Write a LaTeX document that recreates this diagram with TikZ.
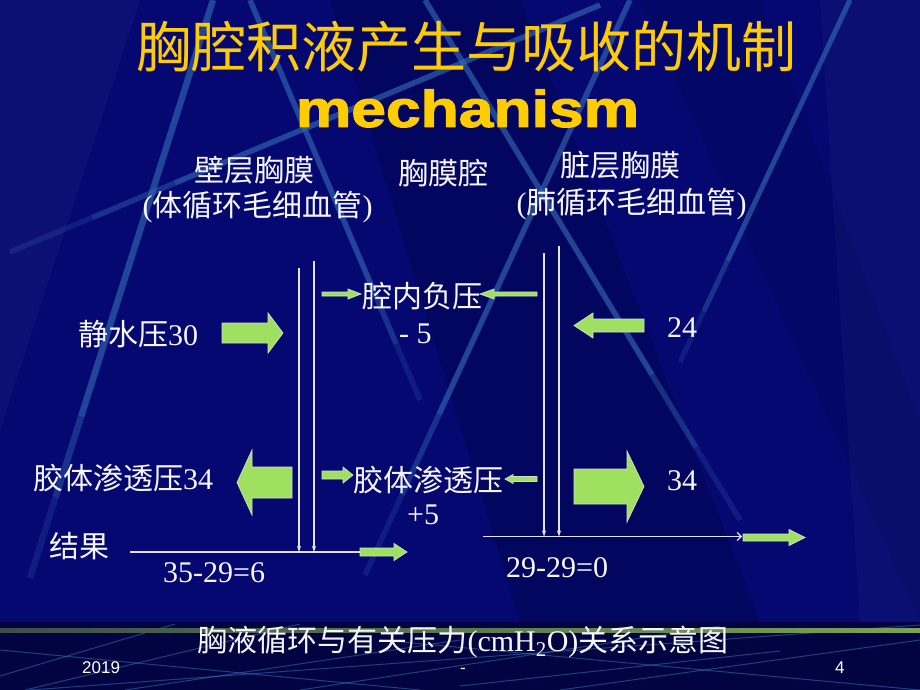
\documentclass[tikz,border=0pt]{standalone}
\usepackage{fontspec}
\usepackage{graphicx}
\setmainfont{Liberation Serif}
\newfontfamily\cjk{Noto Sans CJK SC}
\newfontfamily\arialfont{Liberation Sans}
\newfontfamily\heavyfont[BoldFeatures={FakeBold=1.8}]{Liberation Sans}
\usetikzlibrary{arrows.meta,calc}
\definecolor{bgnavy}{RGB}{4,8,112}
\definecolor{bgdark}{RGB}{2,4,66}
\definecolor{stripe}{RGB}{52,108,182}
\definecolor{titleyellow}{RGB}{255,204,0}
\definecolor{agreen}{RGB}{160,224,96}
\definecolor{aedge}{RGB}{210,222,205}
\definecolor{txt}{RGB}{246,246,250}
\definecolor{lgreen}{RGB}{165,215,90}
\definecolor{fline}{RGB}{70,135,205}
\definecolor{wline}{RGB}{225,228,240}
\tikzset{
  lab/.style={text=txt, font=\fontsize{30}{36}\selectfont, inner sep=0pt},
  bigtitle/.style={text=titleyellow, inner sep=0pt},
  garrowst/.style={fill=agreen, draw=aedge, line width=0.7pt, line join=miter},
  wirest/.style={draw=wline, line width=1.2pt},
  stripest/.style={draw=stripe, line width=5.5pt},
  footst/.style={draw=fline, opacity=0.45, line width=1pt},
  foottext/.style={text=white, font=\arialfont\fontsize{17}{20}\selectfont, inner sep=0pt}
}
% stripe fading toward its second end: #1 start, #2 end, #3 width
\newcommand\fadestripe[3]{%
  \draw[stripest, line width=#3, opacity=0.62] (#1) -- ($(#1)!0.72!(#2)$);
  \draw[stripest, line width=#3, opacity=0.42] ($(#1)!0.72!(#2)$) -- ($(#1)!0.86!(#2)$);
  \draw[stripest, line width=#3, opacity=0.22] ($(#1)!0.86!(#2)$) -- (#2);}
% #1 tail x, #2 tip x, #3 y, #4 body half height, #5 head half height, #6 head length
\newcommand\greenarr[6]{%
  \pgfmathsetmacro\ghb{#2-sign(#2-#1)*#6}%
  \filldraw[garrowst] (#1,{#3-#4}) -- (\ghb,{#3-#4}) -- (\ghb,{#3-#5}) -- (#2,#3)
    -- (\ghb,{#3+#5}) -- (\ghb,{#3+#4}) -- (#1,{#3+#4}) -- cycle;}
\begin{document}
\begin{tikzpicture}[x=1pt,y=-1pt]
\useasboundingbox (0,0) rectangle (920,690);
% background
\fill[bgnavy] (0,0) rectangle (920,690);
\fill[white, opacity=0.035] (0,0) -- (140,0) -- (0,430) -- cycle;
\fill[black, opacity=0.15] (330,0) -- (520,0) -- (760,622) -- (520,622) -- cycle;
\fill[black, opacity=0.08] (640,0) -- (760,0) -- (920,420) -- (920,622) -- cycle;
\fill[white, opacity=0.03] (820,0) -- (920,0) -- (920,622) -- (860,622) -- cycle;
% stripes
\coordinate (sa0) at (600,5);   \coordinate (sa1) at (10,252);
\coordinate (sb0) at (213,0);   \coordinate (sb1) at (30,578);
\coordinate (sc0) at (250,0);   \coordinate (sc1) at (420,400);
\coordinate (sd0) at (630,0);   \coordinate (sd1) at (365,575);
\coordinate (se0) at (425,0);   \coordinate (se1) at (740,520);
\coordinate (sf0) at (850,0);   \coordinate (sf1) at (680,362);
\fadestripe{sa0}{sa1}{5.5pt}
\fadestripe{sb0}{sb1}{6.5pt}
\fadestripe{sc0}{sc1}{5.5pt}
\fadestripe{sd0}{sd1}{5.5pt}
\fadestripe{se0}{se1}{5.5pt}
\fadestripe{sf0}{sf1}{5pt}
% footer band
\fill[bgdark] (0,622) rectangle (920,690);
\begin{scope}
\clip (0,624) rectangle (920,690);
\draw[footst] (0,676) -- (175,624);
\draw[footst] (25,690) -- (300,624);
\draw[footst] (0,650) -- (420,690);
\draw[footst] (125,690) -- (460,640);
\draw[footst] (30,690) -- (920,625);
\draw[footst] (300,690) -- (720,626);
\draw[footst] (460,686) -- (780,651);
\draw[footst] (560,690) -- (920,640);
\draw[footst] (380,640) -- (920,690);
\end{scope}
\shade[left color=lgreen!35!bgdark, middle color=lgreen, right color=lgreen!75!bgdark] (0,628.5) rectangle (920,632);
% titles
\node[bigtitle, anchor=base, font=\cjk\fontsize{55}{66}\selectfont] (title) at (466,68) {胸腔积液产生与吸收的机制};
\node[bigtitle, anchor=base, font=\heavyfont\bfseries\fontsize{52}{60}\selectfont] (mech) at (467.5,127) {\scalebox{1.2}[1]{mechanism}};
% headers
\node[lab, anchor=base] (parietal) at (254,181) {\cjk 壁层胸膜};
\node[lab, anchor=base] (parietalsub) at (257.5,216) {({\cjk 体循环毛细血管})};
\node[lab, anchor=base] (cavity) at (443.5,184) {\cjk 胸膜腔};
\node[lab, anchor=base] (visceral) at (620,176) {\cjk 脏层胸膜};
\node[lab, anchor=base] (visceralsub) at (631.5,213) {({\cjk 肺循环毛细血管})};
% labels
\node[lab, anchor=base west] (hydro) at (78,345) {{\cjk 静水压}30};
\node[lab, anchor=base west] (onco) at (33,489) {{\cjk 胶体渗透压}34};
\node[lab, anchor=base west] (result) at (49,557) {\cjk 结果};
\node[lab, anchor=base west] (resl) at (163,582) {35-29=6};
\node[lab, anchor=base west] (neg) at (362,307) {\cjk 腔内负压};
\node[lab, anchor=base west] (negv) at (399,343) {- 5};
\node[lab, anchor=base west] (oncomid) at (353,491) {\cjk 胶体渗透压};
\node[lab, anchor=base west] (oncomidv) at (407,524) {+5};
\node[lab, anchor=base west] (v24) at (667,337) {24};
\node[lab, anchor=base west] (v34) at (667,490) {34};
\node[lab, anchor=base west] (resr) at (506,577) {29-29=0};
% membrane lines
\coordinate (la) at (299,268); \coordinate (lab1) at (299,552);
\coordinate (lb) at (314,261); \coordinate (lbb) at (314,552);
\coordinate (lh0) at (130,552); \coordinate (lh1) at (360,552);
\coordinate (ra) at (544,253); \coordinate (rab) at (544,536.5);
\coordinate (rb) at (559,245.5); \coordinate (rbb) at (559,536.5);
\coordinate (rh0) at (483,536.5); \coordinate (rh1) at (742,536.5);
\draw[wirest, -{Stealth[length=6pt,width=4pt]}] (la) -- (lab1);
\draw[wirest, -{Stealth[length=6pt,width=4pt]}] (lb) -- (lbb);
\draw[wirest] (lh0) -- (lh1);
\draw[wirest, -{Stealth[length=6pt,width=4pt]}] (ra) -- (rab);
\draw[wirest, -{Stealth[length=6pt,width=4pt]}] (rb) -- (rbb);
\draw[wirest, -{Straight Barb[length=4pt,width=8pt]}] (rh0) -- (rh1);
% green arrows
\greenarr{222}{283}{333}{10}{20}{15}
\greenarr{292}{237}{482.5}{15.5}{32.5}{15}
\greenarr{644}{574}{325.5}{6.5}{12.5}{19}
\greenarr{574}{644}{486.5}{17.5}{35.5}{17}
\greenarr{322}{361}{294}{2}{5}{13}
\greenarr{537}{480}{294}{2}{5}{14}
\greenarr{322}{353}{475}{4}{8}{10}
\greenarr{537}{505}{479}{2.5}{4.5}{8}
\greenarr{360}{407}{552}{4}{8.5}{13}
\greenarr{743}{805}{537.5}{3.5}{8}{16}
% caption and footer
\node[lab, anchor=base] (caption) at (463,651) {{\cjk 胸液循环与有关压力}(cmH\textsubscript{2}O){\cjk 关系示意图}};
\node[foottext, anchor=base west] (year) at (82,673) {2019};
\node[foottext, anchor=base] (dash) at (463,673) {-};
\node[foottext, anchor=base west] (page) at (835,673) {4};
\end{tikzpicture}
\end{document}
